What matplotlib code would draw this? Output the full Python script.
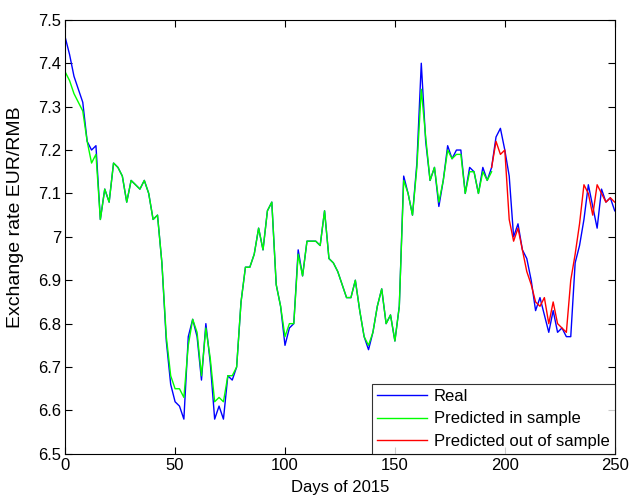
import numpy as np
import matplotlib
matplotlib.use("Agg")
import matplotlib.pyplot as plt

plt.rcParams['font.family'] = ['Liberation Sans', 'DejaVu Sans']

days_real = np.arange(0, 251, 2)
real = [
    7.46, 7.42, 7.37, 7.34, 7.31, 7.22,
    7.20, 7.21, 7.04, 7.11, 7.08,
    7.17, 7.16, 7.14, 7.08, 7.13,
    7.12, 7.11, 7.13, 7.10, 7.04,
    7.05, 6.94, 6.76, 6.66, 6.62,
    6.61, 6.58, 6.77, 6.81, 6.77,
    6.67, 6.80, 6.71, 6.58, 6.61,
    6.58, 6.68, 6.67, 6.70, 6.85,
    6.93, 6.93, 6.96, 7.02, 6.97,
    7.06, 7.08, 6.89, 6.84, 6.75,
    6.79, 6.80, 6.97, 6.91, 6.99,
    6.99, 6.99, 6.98, 7.06, 6.95,
    6.94, 6.92, 6.89, 6.86, 6.86,
    6.90, 6.83, 6.77, 6.74, 6.78,
    6.84, 6.88, 6.80, 6.82, 6.76,
    6.84, 7.14, 7.10, 7.05, 7.17,
    7.40, 7.22, 7.13, 7.16, 7.07,
    7.13, 7.21, 7.18, 7.20, 7.20,
    7.10, 7.16, 7.15, 7.10, 7.16,
    7.13, 7.16, 7.23, 7.25, 7.20,
    7.14, 7.00, 7.03, 6.97, 6.95,
    6.90, 6.83, 6.86, 6.82, 6.78,
    6.83, 6.78, 6.79, 6.77, 6.77,
    6.94, 6.98, 7.04, 7.12, 7.07,
    7.02, 7.11, 7.08, 7.09, 7.06,
]

days_in = np.arange(0, 195, 2)
pred_in = [
    7.38, 7.36, 7.33, 7.31, 7.29, 7.22,
    7.17, 7.19, 7.04, 7.11, 7.08,
    7.17, 7.16, 7.14, 7.08, 7.13,
    7.12, 7.11, 7.13, 7.10, 7.04,
    7.05, 6.94, 6.77, 6.68, 6.65,
    6.65, 6.63, 6.75, 6.81, 6.78,
    6.68, 6.79, 6.72, 6.62, 6.63,
    6.62, 6.68, 6.68, 6.70, 6.85,
    6.93, 6.93, 6.96, 7.02, 6.97,
    7.06, 7.08, 6.89, 6.84, 6.77,
    6.80, 6.80, 6.96, 6.91, 6.99,
    6.99, 6.99, 6.98, 7.06, 6.95,
    6.94, 6.92, 6.89, 6.86, 6.86,
    6.90, 6.83, 6.77, 6.75, 6.78,
    6.84, 6.88, 6.80, 6.82, 6.76,
    6.84, 7.13, 7.10, 7.05, 7.16,
    7.34, 7.23, 7.13, 7.16, 7.08,
    7.13, 7.20, 7.18, 7.19, 7.19,
    7.10, 7.15, 7.15, 7.10, 7.15,
    7.13, 7.15,
]

days_out = np.arange(194, 251, 2)
pred_out = [
    7.16, 7.22, 7.19, 7.20, 7.04, 6.99, 7.02, 6.97, 6.92, 6.89,
    6.85, 6.84, 6.86, 6.80, 6.85, 6.80, 6.79, 6.78, 6.90, 6.96,
    7.03, 7.12, 7.10, 7.05, 7.12, 7.10, 7.08, 7.09, 7.08,
]

fig = plt.figure(figsize=(6.39, 4.96), dpi=100)
ax = fig.add_axes([0.102, 0.085, 0.860, 0.875])

ax.plot(days_real, real, color=(0, 0, 1), lw=1.0, label='Real')
ax.plot(days_in, pred_in, color=(0, 1, 0), lw=1.0, label='Predicted in sample')
ax.plot(days_out, pred_out, color=(1, 0, 0), lw=1.0, label='Predicted out of sample')

ax.set_xlim(0, 250)
ax.set_ylim(6.5, 7.5)
ax.set_xticks([0, 50, 100, 150, 200, 250])
ax.set_yticks([6.5, 6.6, 6.7, 6.8, 6.9, 7.0, 7.1, 7.2, 7.3, 7.4, 7.5])
ax.set_yticklabels(['6.5', '6.6', '6.7', '6.8', '6.9', '7', '7.1', '7.2', '7.3', '7.4', '7.5'])
ax.tick_params(direction='in', top=True, right=True, labelsize=12, length=5, width=0.8, pad=3)
for s in ax.spines.values():
    s.set_linewidth(0.8)

ax.set_xlabel('Days of 2015', fontsize=12, labelpad=5)
ax.set_ylabel('Exchange rate EUR/RMB', fontsize=14, labelpad=4)
ax.yaxis.set_label_coords(-0.075, 0.545)

leg = ax.legend(loc='lower right', fontsize=12, frameon=True, fancybox=False,
                edgecolor='black', borderaxespad=0, handlelength=3.0,
                handletextpad=0.4, borderpad=0.3, labelspacing=0.45)
leg.get_frame().set_linewidth(0.8)

fig.savefig('out.png', dpi=100)
